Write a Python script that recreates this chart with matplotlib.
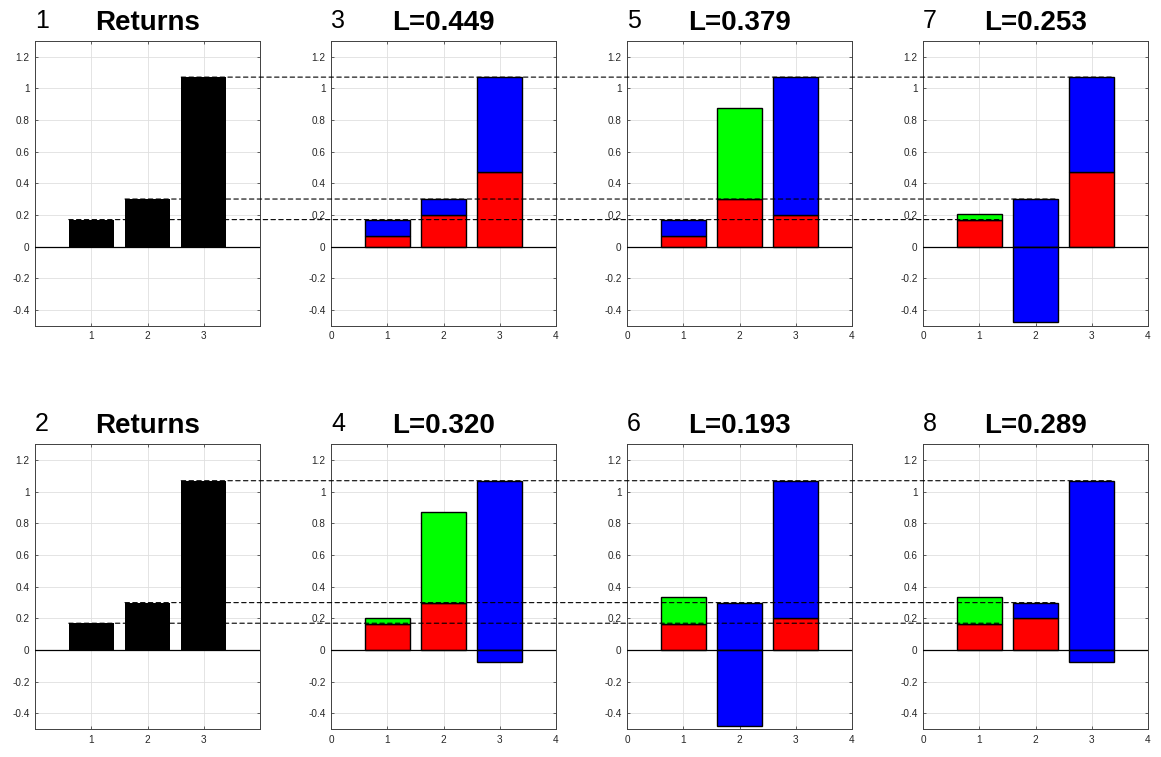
import numpy as np
import matplotlib
matplotlib.use("Agg")
import matplotlib.pyplot as plt
from matplotlib.patches import ConnectionPatch

plt.rcParams['font.family'] = ['Liberation Sans', 'DejaVu Sans']

# data
returns = [0.17, 0.30, 1.07]
positions = [1, 2, 3]

panel_ids = [3, 5, 7, 4, 6, 8]
panel_titles = ['L=0.449', 'L=0.379', 'L=0.253', 'L=0.320', 'L=0.193', 'L=0.289']
red = [
    [0.065, 0.20, 0.47],
    [0.065, 0.30, 0.20],
    [0.17, 0.0, 0.47],
    [0.165, 0.30, 0.0],
    [0.165, 0.0, 0.20],
    [0.165, 0.20, 0.0],
]
green = [
    [0.0, 0.0, 0.0],
    [0.0, 0.575, 0.0],
    [0.035, 0.0, 0.0],
    [0.035, 0.575, 0.0],
    [0.17, 0.0, 0.0],
    [0.17, 0.0, 0.0],
]
blue = [
    [0.105, 0.10, 0.60],
    [0.105, 0.0, 0.87],
    [0.0, 0.30, 0.60],
    [0.0, 0.0, 1.07],
    [0.0, 0.30, 0.87],
    [0.0, 0.10, 1.07],
]
blue_neg = [
    [0.0, 0.0, 0.0],
    [0.0, 0.0, 0.0],
    [0.0, -0.478, 0.0],
    [0.0, 0.0, -0.074],
    [0.0, -0.478, 0.0],
    [0.0, 0.0, -0.074],
]

yticks = [-0.4, -0.2, 0, 0.2, 0.4, 0.6, 0.8, 1.0, 1.2]
ytick_labels = ['-0.4', '-0.2', '0', '0.2', '0.4', '0.6', '0.8', '1', '1.2']
xticks_full = [0, 1, 2, 3, 4]
xticks_returns = [1, 2, 3]

fig = plt.figure(figsize=(11.61, 7.57), dpi=100)
W, H = 1161, 757
lefts = [35, 331, 627, 923]
tops = [40.7, 444.3]
aw, ah = 225, 285

def make_ax(col, row):
    ax = fig.add_axes([lefts[col] / W, 1 - (tops[row] + ah) / H, aw / W, ah / H])
    ax.set_xlim(0, 4)
    ax.set_ylim(-0.5, 1.3)
    ax.set_yticks(yticks)
    ax.set_yticklabels(ytick_labels)
    ax.grid(True, color='#dfdfdf', lw=0.6)
    ax.set_axisbelow(True)
    ax.tick_params(direction='in', length=2.2, width=0.5, labelsize=7.2,
                   colors='#262626', top=True, right=True, pad=4)
    for s in ax.spines.values():
        s.set_color('#404040')
        s.set_linewidth(0.7)
    ax.axhline(0, color='black', lw=0.9, zorder=5)
    return ax

def seg(ax, vals, bottoms, color):
    vals = np.asarray(vals)
    bottoms = np.asarray(bottoms)
    idx = np.nonzero(vals)[0]
    if len(idx):
        ax.bar(np.array(positions)[idx], vals[idx], 0.8, bottom=bottoms[idx],
               color=color, edgecolor='black', linewidth=1.0, zorder=3)

axes = {}
for row in range(2):
    ax = make_ax(0, row)
    ax.bar(positions, returns, 0.8, color='black', zorder=3)
    ax.set_xticks(xticks_returns)
    ax.set_title('Returns', fontsize=20, fontweight='bold', pad=8)
    ax.text(0.0, 1.045, str(row + 1), transform=ax.transAxes, fontsize=18,
            ha='left', va='baseline')
    axes[(0, row)] = ax

for k in range(6):
    col = k % 3 + 1
    row = k // 3
    ax = make_ax(col, row)
    ax.set_xticks(xticks_full)
    r = np.array(red[k])
    g = np.array(green[k])
    seg(ax, r, np.zeros(3), '#ff0000')
    seg(ax, g, r, '#00ff00')
    seg(ax, blue[k], r, '#0000ff')
    seg(ax, blue_neg[k], np.zeros(3), '#0000ff')
    ax.set_title(panel_titles[k], fontsize=20, fontweight='bold', pad=8)
    ax.text(0.0, 1.045, str(panel_ids[k]), transform=ax.transAxes, fontsize=18,
            ha='left', va='baseline')
    axes[(col, row)] = ax

# dashed reference lines from the returns panel to the last column
for row in range(2):
    for x, v in zip(positions, returns):
        con = ConnectionPatch(xyA=(x - 0.4, v), coordsA='data', axesA=axes[(0, row)],
                              xyB=(x + 0.4, v), coordsB='data', axesB=axes[(3, row)],
                              color='black', lw=0.8, linestyle=(0, (4, 3)), zorder=10)
        fig.add_artist(con)

fig.savefig('out.png', dpi=100)
